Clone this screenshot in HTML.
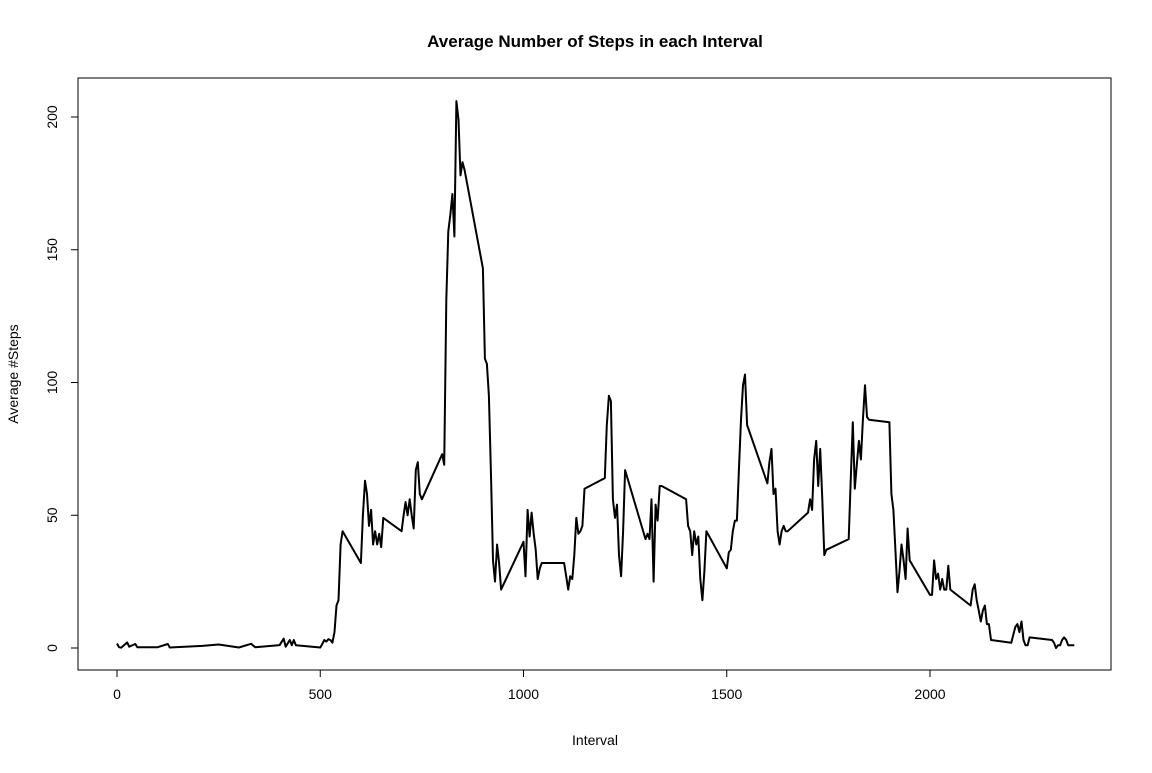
<!DOCTYPE html>
<html><head><meta charset="utf-8"><style>
body{margin:0;background:#fff;}
svg text{font-family:"Liberation Sans",sans-serif;fill:#000;}
</style></head><body>
<svg id="chart" width="1152" height="768">
<rect width="1152" height="768" fill="#fff"/>
<text x="595" y="47" text-anchor="middle" font-size="17" font-weight="bold">Average Number of Steps in each Interval</text>
<rect x="78" y="78" width="1033" height="592" fill="none" stroke="#000"/>
<text x="595" y="745" text-anchor="middle" font-size="14">Interval</text>
<text transform="translate(18,374) rotate(-90)" text-anchor="middle" font-size="14">Average #Steps</text>
<g id="axes"></g>
<path id="line" fill="none" stroke="#000" stroke-width="2" stroke-linejoin="round"/>
</svg>
<script>
const intervals=[0,5,10,25,30,45,50,100,125,130,210,250,300,330,340,400,410,415,425,430,435,440,500,505,510,515,520,525,530,535,540,545,550,555,600,605,610,615,620,625,630,635,640,645,650,655,700,705,710,715,720,725,730,735,740,745,750,800,805,810,815,820,825,830,835,840,845,850,855,900,905,910,915,920,925,930,935,940,945,1000,1005,1010,1015,1020,1025,1030,1035,1040,1045,1100,1105,1110,1115,1120,1125,1130,1135,1140,1145,1150,1200,1205,1210,1215,1220,1225,1230,1235,1240,1245,1250,1300,1305,1310,1315,1320,1325,1330,1335,1340,1400,1405,1410,1415,1420,1425,1430,1435,1440,1445,1450,1500,1505,1510,1515,1520,1525,1530,1535,1540,1545,1550,1600,1605,1610,1615,1620,1625,1630,1635,1640,1645,1650,1700,1705,1710,1715,1720,1725,1730,1735,1740,1745,1800,1805,1810,1815,1820,1825,1830,1835,1840,1845,1850,1900,1905,1910,1915,1920,1925,1930,1935,1940,1945,1950,2000,2005,2010,2015,2020,2025,2030,2035,2040,2045,2050,2100,2105,2110,2115,2120,2125,2130,2135,2140,2145,2150,2200,2205,2210,2215,2220,2225,2230,2235,2240,2245,2300,2305,2310,2315,2320,2325,2330,2335,2340,2345,2355];
const steps=[1.7,0.3,0.1,2.1,0.5,1.5,0.3,0.3,1.5,0.2,0.8,1.3,0.2,1.6,0.3,1.1,3.5,0.5,3,1,3,1,0.2,1.5,3,2.4,3.3,3,2,6,16,18,39,44,32,50,63,58,46,52,39,44,39,43,38,49,44,50,55,50,56,50,45,67,70,58,56,73,69,131,157,163,171,155,206,199,178,183,180,143,109,107,95,65,33,25,39,32,22,40,27,52,42,51,43,37,26,30,32,32,27,22,27,26,35,49,43,44,46,60,64,84,95,93,56,49,54,35,27,44,67,41,43,41,56,25,54,48,61,61,56,46,44,35,44,39,42,26,18,29,44,30,36,37,44,48,48,67,86,99,103,84,62,70,75,58,60,44,39,44,46,44,44,51,56,52,71,78,61,75,56,35,37,41,63,85,60,69,78,71,86,99,87,86,85,58,52,37,21,29,39,33,26,45,33,20,20,33,26,28,22,26,22,22,31,22,16,22,24,18,14,10,14,16,9,9,3,2,5,8,9,6,10,3,1,1,4,3,2,0,1,1,3,4,3,1,1,1];
const xTicks=[0,500,1000,1500,2000];
const yTicks=[0,50,100,150,200];
const NS='http://www.w3.org/2000/svg';
function xs(v){return 117+v*(930-117)/2000;}
function ys(v){return 648-v*(648-117)/200;}
const axes=document.getElementById('axes');
function mk(tag,attrs){const e=document.createElementNS(NS,tag);for(const k in attrs)e.setAttribute(k,attrs[k]);axes.appendChild(e);return e;}
mk('line',{x1:xs(0),x2:xs(2000),y1:670,y2:670,stroke:'#000'});
xTicks.forEach(t=>{
  const l=mk('line',{x1:xs(t),x2:xs(t),y1:670,y2:677,stroke:'#000'});
  
  
  const tx=mk('text',{x:xs(t),y:699,'text-anchor':'middle','font-size':14});
  tx.textContent=t;
  
  
});
mk('line',{x1:78,x2:78,y1:ys(0),y2:ys(200),stroke:'#000'});
yTicks.forEach(t=>{
  const l=mk('line',{x1:71,x2:78,y1:ys(t),y2:ys(t),stroke:'#000'});
  
  
  const tx=mk('text',{transform:`translate(57,${ys(t)}) rotate(-90)`,'text-anchor':'middle','font-size':14});
  tx.textContent=t;
  
  
});
document.getElementById('line').setAttribute('d',intervals.map((v,i)=>(i?'L':'M')+xs(v).toFixed(1)+' '+ys(steps[i]).toFixed(1)).join(''));
</script>
</body></html>
